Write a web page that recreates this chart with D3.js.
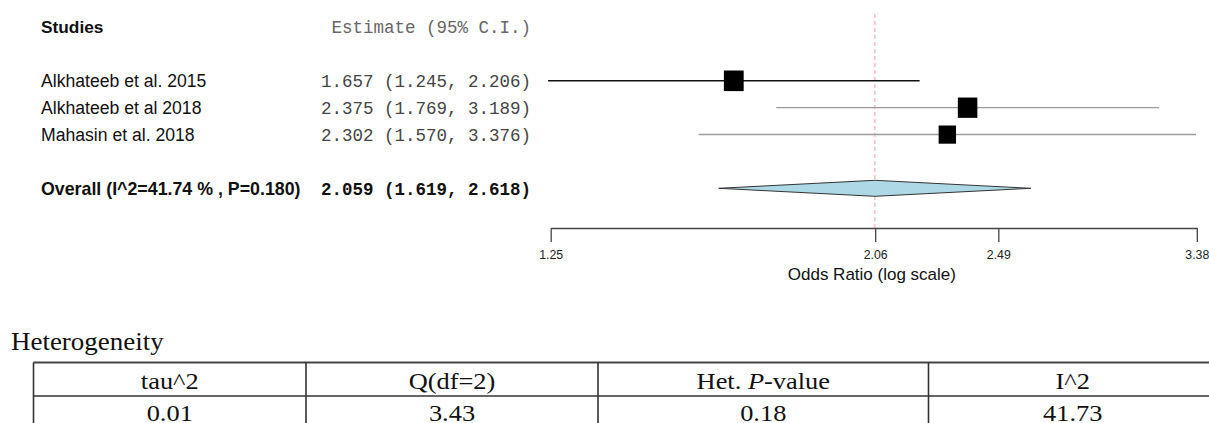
<!DOCTYPE html>
<html>
<head>
<meta charset="utf-8">
<script src="https://cdn.jsdelivr.net/npm/d3@7"></script>
<style>
  html, body { margin: 0; padding: 0; background: #fff; }
  svg { display: block; }
</style>
</head>
<body>
<svg id="chart" width="1209" height="423"></svg>
<script>
// ---- data ----
const studies   = ["Alkhateeb et al. 2015", "Alkhateeb et al 2018", "Mahasin et al. 2018"];
const estimates = [1.657, 2.375, 2.302];
const lower     = [1.245, 1.769, 1.570];
const upper     = [2.206, 3.189, 3.376];

const pooledEstimate = 2.059;
const pooledLower    = 1.619;
const pooledUpper    = 2.618;
const pooledI2       = "41.74";
const pooledP        = "0.180";

const axisTicks = [1.25, 2.06, 2.49, 3.38];

const hetHeaders = ["tau^2", "Q(df=2)", "Het. P-value", "I^2"];
const hetValues  = ["0.01", "3.43", "0.18", "41.73"];
const tau2       = 0.01;

// ---- layout ----
const svg = d3.select("#chart");
const sans  = "'Liberation Sans', Arial, sans-serif";
const mono  = "'Liberation Mono', 'Courier New', monospace";
const serif = "'Liberation Serif', 'Times New Roman', serif";

const x = d3.scaleLog().domain([axisTicks[0], axisTicks[axisTicks.length - 1]]).range([550.7, 1196.8]);
// row index -> vertical centre (header = -2, studies 0..2, pooled = 4)
const rowY = d3.scaleLinear().domain([0, 1]).range([80.7, 107.6]);
const axisY = 228;

const fmt = d3.format(".3f");
const ciText = (e, l, u) => `${fmt(e)} (${fmt(l)}, ${fmt(u)})`;

// random-effects weights drive the box size
const weights = estimates.map((e, i) => {
  const se = (Math.log(upper[i]) - Math.log(lower[i])) / (2 * 1.96);
  return 1 / (se * se + tau2);
});
const boxSize = d3.scaleLinear().domain(d3.extent(weights)).range([17.4, 19.8]);

// ---- left text columns ----
const labelX = 41, estRight = 531, labelSize = 17.6;

svg.append("text")
  .attr("x", labelX).attr("y", rowY(-2) + 6)
  .attr("font-family", sans).attr("font-weight", "bold").attr("font-size", labelSize - 0.3)
  .attr("fill", "#111")
  .text("Studies");

svg.append("text")
  .attr("x", estRight).attr("y", rowY(-2) + 6)
  .attr("text-anchor", "end")
  .attr("font-family", mono).attr("font-size", 17.5)
  .attr("fill", "#666")
  .text("Estimate (95% C.I.)");

svg.selectAll("text.study")
  .data(studies)
  .join("text")
  .attr("class", "study")
  .attr("x", labelX).attr("y", (d, i) => rowY(i) + 6.5)
  .attr("font-family", sans).attr("font-size", labelSize)
  .attr("fill", "#111")
  .text(d => d);

svg.selectAll("text.est")
  .data(estimates)
  .join("text")
  .attr("class", "est")
  .attr("x", estRight).attr("y", (d, i) => rowY(i) + 6)
  .attr("text-anchor", "end")
  .attr("font-family", mono).attr("font-size", 17.5)
  .attr("fill", "#444")
  .text((d, i) => ciText(d, lower[i], upper[i]));

svg.append("text")
  .attr("x", labelX).attr("y", rowY(4) + 7)
  .attr("font-family", sans).attr("font-weight", "bold").attr("font-size", labelSize + 0.2)
  .attr("fill", "#111")
  .text(`Overall (I^2=${pooledI2} % , P=${pooledP})`);

svg.append("text")
  .attr("x", estRight).attr("y", rowY(4) + 7)
  .attr("text-anchor", "end")
  .attr("font-family", mono).attr("font-weight", "bold").attr("font-size", 17.5)
  .attr("fill", "#111")
  .text(ciText(pooledEstimate, pooledLower, pooledUpper));

// ---- reference line at the pooled estimate ----
svg.append("line")
  .attr("x1", x(pooledEstimate)).attr("x2", x(pooledEstimate))
  .attr("y1", 14).attr("y2", axisY)
  .attr("stroke", "#f4a0a0").attr("stroke-width", 1)
  .attr("stroke-dasharray", "4,3");

// ---- confidence intervals and boxes ----
const ciColors = ["#111", "#9a9a9a", "#9a9a9a"];
svg.selectAll("line.ci")
  .data(estimates)
  .join("line")
  .attr("class", "ci")
  .attr("x1", (d, i) => x(lower[i])).attr("x2", (d, i) => x(upper[i]))
  .attr("y1", (d, i) => rowY(i)).attr("y2", (d, i) => rowY(i))
  .attr("stroke", (d, i) => ciColors[i]).attr("stroke-width", 1.4);

svg.selectAll("rect.box")
  .data(estimates)
  .join("rect")
  .attr("class", "box")
  .attr("x", (d, i) => x(d) - boxSize(weights[i]) / 2)
  .attr("y", (d, i) => rowY(i) - boxSize(weights[i]) / 2 - 0.3)
  .attr("width", (d, i) => boxSize(weights[i]))
  .attr("height", (d, i) => boxSize(weights[i]) + 0.8)
  .attr("fill", "#000");

// ---- pooled diamond ----
const dy = rowY(4), dh = 8;
svg.append("polygon")
  .attr("points", [
    [x(pooledLower), dy], [x(pooledEstimate), dy - dh],
    [x(pooledUpper), dy], [x(pooledEstimate), dy + dh]
  ].map(p => p.join(",")).join(" "))
  .attr("fill", "#add8e6").attr("stroke", "#333").attr("stroke-width", 1);

// ---- x axis ----
const axis = svg.append("g")
  .attr("transform", `translate(0,${axisY})`)
  .call(d3.axisBottom(x)
    .tickValues(axisTicks)
    .tickFormat(d3.format(".2f"))
    .tickSize(14).tickSizeOuter(0).tickPadding(8));
axis.select(".domain").attr("stroke", "#444").attr("stroke-width", 1.3);
axis.selectAll(".tick line").attr("stroke", "#444").attr("stroke-width", 1.3);
axis.selectAll(".tick text")
  .attr("font-family", sans).attr("font-size", 12.3).attr("fill", "#222");

svg.append("text")
  .attr("x", x(pooledEstimate) - 3).attr("y", 280)
  .attr("text-anchor", "middle")
  .attr("font-family", sans).attr("font-size", 17)
  .attr("fill", "#111")
  .text("Odds Ratio (log scale)");

// ---- heterogeneity table ----
const stretch = 1.1;
const serifText = (g, xPos, yPos, size, anchor) =>
  g.append("text")
    .attr("transform", `translate(${xPos},${yPos}) scale(${stretch},1)`)
    .attr("text-anchor", anchor)
    .attr("font-family", serif).attr("font-size", size)
    .attr("fill", "#111");

serifText(svg, 11, 350, 24.5, "start").text("Heterogeneity");

const colEdges = [33.5, 306, 598, 928.5, 1217];
const tableTop = 362.5, tableMid = 396;
const table = svg.append("g");

table.append("line")
  .attr("x1", colEdges[0]).attr("x2", colEdges[colEdges.length - 1])
  .attr("y1", tableTop).attr("y2", tableTop)
  .attr("stroke", "#444").attr("stroke-width", 2);
table.append("line")
  .attr("x1", colEdges[0]).attr("x2", colEdges[colEdges.length - 1])
  .attr("y1", tableMid).attr("y2", tableMid)
  .attr("stroke", "#666").attr("stroke-width", 2);
table.selectAll("line.col")
  .data(colEdges)
  .join("line")
  .attr("class", "col")
  .attr("x1", d => d).attr("x2", d => d)
  .attr("y1", tableTop).attr("y2", 423)
  .attr("stroke", "#333").attr("stroke-width", 1.6);

hetHeaders.forEach((h, i) => {
  const cx = (colEdges[i] + colEdges[i + 1]) / 2;
  const t = serifText(table, cx, 389, 24, "middle");
  if (h.includes("P-value")) {
    t.append("tspan").text("Het. ");
    t.append("tspan").attr("font-style", "italic").text("P");
    t.append("tspan").text("-value");
  } else {
    t.text(h);
  }
  serifText(table, cx, 420.5, 24, "middle").text(hetValues[i]);
});
</script>
</body>
</html>
